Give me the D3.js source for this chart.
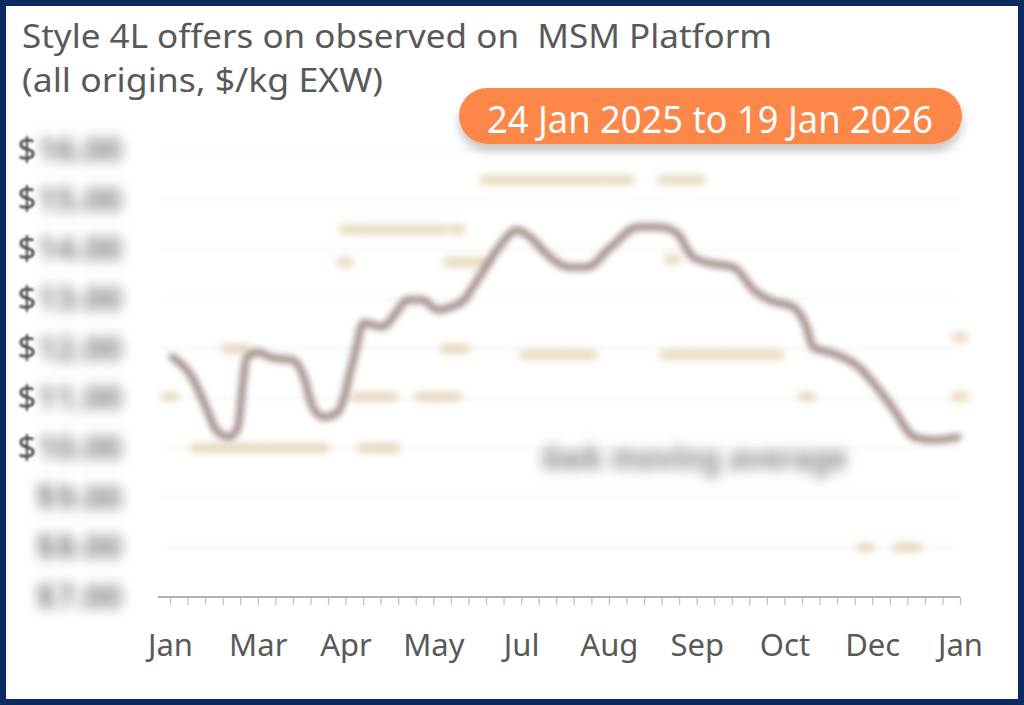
<!DOCTYPE html>
<html><head><meta charset="utf-8">
<script src="https://cdn.jsdelivr.net/npm/d3@7"></script>
<style>
html,body{margin:0;padding:0;background:#fff;}
svg{display:block;}
text{white-space:pre;}
</style>
</head><body>
<svg id="c" width="1024" height="705"></svg>
<script>
// ---------- DATA ----------
const titleLines = ["Style 4L offers on observed on  MSM Platform", "(all origins, $/kg EXW)"];
const dateRangeLabel = "24 Jan 2025 to 19 Jan 2026";
const seriesLabel = "6wk moving average";
const xDomain = ["2025-01-24", "2026-01-19"];
const xLabelDates = ["2025-01-24","2025-03-05","2025-04-14","2025-05-24","2025-07-03","2025-08-12","2025-09-21","2025-10-31","2025-12-10","2026-01-19"];
const xTickLabels = ["Jan","Mar","Apr","May","Jul","Aug","Sep","Oct","Dec","Jan"];
const yTickValues = [7, 8, 9, 10, 11, 12, 13, 14, 15, 16];

// 6-week moving average of offers ($/kg)
const movingAverage = [
  ["2025-01-25",11.83],["2025-02-03",11.43],["2025-02-10",10.76],["2025-02-14",10.36],
  ["2025-02-20",10.22],["2025-02-24",10.42],["2025-02-26",11.23],["2025-02-28",11.83],
  ["2025-03-05",11.93],["2025-03-12",11.81],["2025-03-21",11.77],["2025-03-26",11.43],
  ["2025-03-30",10.83],["2025-04-04",10.62],["2025-04-10",10.70],["2025-04-13",10.97],
  ["2025-04-16",11.51],["2025-04-19",12.03],["2025-04-22",12.52],["2025-05-01",12.44],
  ["2025-05-07",12.72],["2025-05-12",12.98],["2025-05-19",12.98],["2025-05-26",12.78],
  ["2025-06-01",12.84],["2025-06-07",12.98],["2025-06-11",13.24],["2025-06-16",13.58],
  ["2025-06-23",14.05],["2025-07-01",14.39],["2025-07-07",14.25],["2025-07-16",13.85],
  ["2025-07-25",13.64],["2025-08-02",13.64],["2025-08-13",14.05],["2025-08-25",14.45],
  ["2025-09-04",14.45],["2025-09-12",14.33],["2025-09-19",13.85],["2025-09-27",13.72],
  ["2025-10-08",13.64],["2025-10-17",13.18],["2025-10-24",12.98],["2025-11-04",12.84],
  ["2025-11-10",12.44],["2025-11-13",12.03],["2025-11-22",11.91],["2025-12-04",11.63],
  ["2025-12-12",11.23],["2025-12-20",10.76],["2025-12-29",10.22],["2026-01-07",10.16],
  ["2026-01-18",10.22]
];

// individual offers observed ($/kg)
const offers = [
  ["2025-06-18",15.40],["2025-06-25",15.40],["2025-07-02",15.40],["2025-07-09",15.40],
  ["2025-07-16",15.40],["2025-07-23",15.40],["2025-07-30",15.40],["2025-08-06",15.40],
  ["2025-08-13",15.40],["2025-08-20",15.40],
  ["2025-09-07",15.40],["2025-09-14",15.40],["2025-09-21",15.40],
  ["2025-04-15",14.40],["2025-04-22",14.40],["2025-04-29",14.40],["2025-05-06",14.40],
  ["2025-05-13",14.40],["2025-05-20",14.40],["2025-05-27",14.40],["2025-06-04",14.40],
  ["2025-04-14",13.74],["2025-06-01",13.74],["2025-06-08",13.74],["2025-06-15",13.74],
  ["2025-09-10",13.80],
  ["2025-02-20",12.00],["2025-02-26",12.00],["2025-05-31",12.00],["2025-06-06",12.00],
  ["2025-07-06",11.88],["2025-07-13",11.88],["2025-07-20",11.88],["2025-07-27",11.88],
  ["2025-08-03",11.88],
  ["2025-09-08",11.88],["2025-09-15",11.88],["2025-09-22",11.88],["2025-09-29",11.88],
  ["2025-10-06",11.88],["2025-10-13",11.88],["2025-10-20",11.88],["2025-10-27",11.88],
  ["2025-01-24",11.03],["2025-04-20",11.03],["2025-04-27",11.03],["2025-05-04",11.03],
  ["2025-05-19",11.03],["2025-05-26",11.03],["2025-06-02",11.03],["2025-11-10",11.03],
  ["2026-01-19",11.03],
  ["2025-02-06",10.00],["2025-02-13",10.00],["2025-02-20",10.00],["2025-02-27",10.00],
  ["2025-03-06",10.00],["2025-03-13",10.00],["2025-03-20",10.00],["2025-03-27",10.00],
  ["2025-04-03",10.00],
  ["2025-04-23",10.00],["2025-04-30",10.00],["2025-05-05",10.00],
  ["2026-01-19",12.23],
  ["2025-12-07",8.00],["2025-12-23",8.00],["2025-12-29",8.00]
];

// ---------- CHART ----------
const parse = d3.utcParse("%Y-%m-%d");
const svg = d3.select("#c");
const W = 1024, H = 705;
const FONT = "'Noto Sans', 'Open Sans', sans-serif";

const defs = svg.append("defs");
function blurFilter(id, sd) {
  defs.append("filter").attr("id", id)
    .attr("filterUnits", "userSpaceOnUse").attr("x", -400).attr("y", -400)
    .attr("width", W + 800).attr("height", H + 800)
    .append("feGaussianBlur").attr("stdDeviation", sd);
}
blurFilter("bMarks", 4.4);
blurFilter("bLine", 3.0);
blurFilter("bText", 6.5);
blurFilter("bSoft", 1.0);
blurFilter("bGrid", 2.2);
const sh = defs.append("filter").attr("id", "shadow")
  .attr("x", "-10%").attr("y", "-30%").attr("width", "120%").attr("height", "180%");
sh.append("feDropShadow").attr("dx", 0).attr("dy", 7).attr("stdDeviation", 5)
  .attr("flood-color", "#000").attr("flood-opacity", 0.22);

svg.append("rect").attr("width", W).attr("height", H).attr("fill", "#fff");

const x = d3.scaleUtc().domain(xDomain.map(parse)).range([170, 960]);
const y = d3.scaleLinear().domain([7, 16]).range([597, 150]);

// gridlines
svg.append("g").attr("filter", "url(#bGrid)")
  .selectAll("line").data(yTickValues.slice(1)).join("line")
  .attr("x1", 160).attr("x2", 960)
  .attr("y1", d => y(d)).attr("y2", d => y(d))
  .attr("stroke", "#f1f1f1").attr("stroke-width", 1.6);

// x axis
const tickDates = d3.utcDay.range(x.domain()[0], d3.utcDay.offset(x.domain()[1], 1), 8);
const labelMap = new Map(xLabelDates.map((d, i) => [+parse(d), xTickLabels[i]]));
const xAxis = d3.axisBottom(x).tickValues(tickDates).tickSize(8).tickPadding(29)
  .tickFormat(d => labelMap.get(+d) || "");
const gx = svg.append("g").attr("transform", `translate(0,${y(7)})`).call(xAxis);
gx.select(".domain").remove();
gx.selectAll(".tick line").attr("stroke", "#c2c2c2").attr("stroke-width", 1.3);
gx.selectAll(".tick text").attr("font-family", FONT).attr("font-size", 31)
  .attr("fill", "#595959").attr("dy", "0.71em");
svg.append("line").attr("x1", 158).attr("x2", x.range()[1])
  .attr("y1", y(7)).attr("y2", y(7)).attr("stroke", "#b0b0b0").attr("stroke-width", 2.2);

// y axis labels (blurred in reference): numeric part via axis, "$" prefix beside it
const yAxis = d3.axisLeft(y).tickValues(yTickValues).tickSize(0).tickPadding(0)
  .tickFormat(d3.format(".2f"));
const gy = svg.append("g").attr("transform", "translate(122,0)").call(yAxis);
gy.select(".domain").remove();
gy.attr("filter", "url(#bText)");
gy.selectAll(".tick text").attr("font-family", FONT).attr("font-size", 33)
  .attr("font-weight", 600).attr("fill", "#666");
const gdSharp = svg.append("g").attr("filter", "url(#bSoft)");
const gdBlur = svg.append("g").attr("filter", "url(#bText)");
gy.selectAll(".tick").each(function(d) {
  const w = d3.select(this).select("text").node().getComputedTextLength();
  (d >= 10 ? gdSharp : gdBlur).append("text")
    .attr("x", 122 - w - 1).attr("y", y(d)).attr("dy", "0.32em").attr("text-anchor", "end")
    .attr("font-family", FONT).attr("font-size", 33)
    .attr("font-weight", d >= 10 ? 400 : 600).attr("fill", d >= 10 ? "#4a4a4a" : "#666")
    .text("$");
});

// offers
svg.append("g").attr("filter", "url(#bMarks)")
  .selectAll("rect").data(offers).join("rect")
  .attr("x", d => x(parse(d[0])) - 8).attr("y", d => y(d[1]) - 3.5)
  .attr("width", 16).attr("height", 7).attr("rx", 2)
  .attr("fill", "#ddcaa2");

// moving average line
const line = d3.line().x(d => x(parse(d[0]))).y(d => y(d[1])).curve(d3.curveMonotoneX);
svg.append("path").datum(movingAverage).attr("d", line)
  .attr("fill", "none").attr("stroke", "#9d8883").attr("stroke-width", 7)
  .attr("stroke-linejoin", "round").attr("stroke-linecap", "round")
  .attr("filter", "url(#bLine)");

// series label (blurred)
svg.append("text").attr("x", 695).attr("y", 470).attr("text-anchor", "middle")
  .attr("font-family", FONT).attr("font-size", 34).attr("font-weight", 700).attr("fill", "#888")
  .attr("filter", "url(#bText)")
  .attr("textLength", 305).attr("lengthAdjust", "spacingAndGlyphs")
  .text(seriesLabel);

// title
const tw = [750, 361];
titleLines.forEach((t, i) => {
  svg.append("text").attr("x", 22).attr("y", 48 + i * 44)
    .attr("font-family", FONT).attr("font-size", 33).attr("fill", "#595959")
    .attr("textLength", tw[i]).attr("lengthAdjust", "spacingAndGlyphs")
    .text(t);
});

// date badge
const badge = svg.append("g");
badge.append("rect").attr("x", 459).attr("y", 88).attr("width", 503).attr("height", 56)
  .attr("rx", 28).attr("fill", "#fd8748").attr("filter", "url(#shadow)");
badge.append("text").attr("x", 710).attr("y", 133).attr("text-anchor", "middle")
  .attr("font-family", FONT).attr("font-size", 38).attr("fill", "#fff")
  .attr("textLength", 446).attr("lengthAdjust", "spacingAndGlyphs")
  .text(dateRangeLabel);

// frame
svg.append("rect").attr("x", 3).attr("y", 3).attr("width", W - 6).attr("height", H - 6)
  .attr("fill", "none").attr("stroke", "#0b2a63").attr("stroke-width", 6);
</script>
</body></html>
